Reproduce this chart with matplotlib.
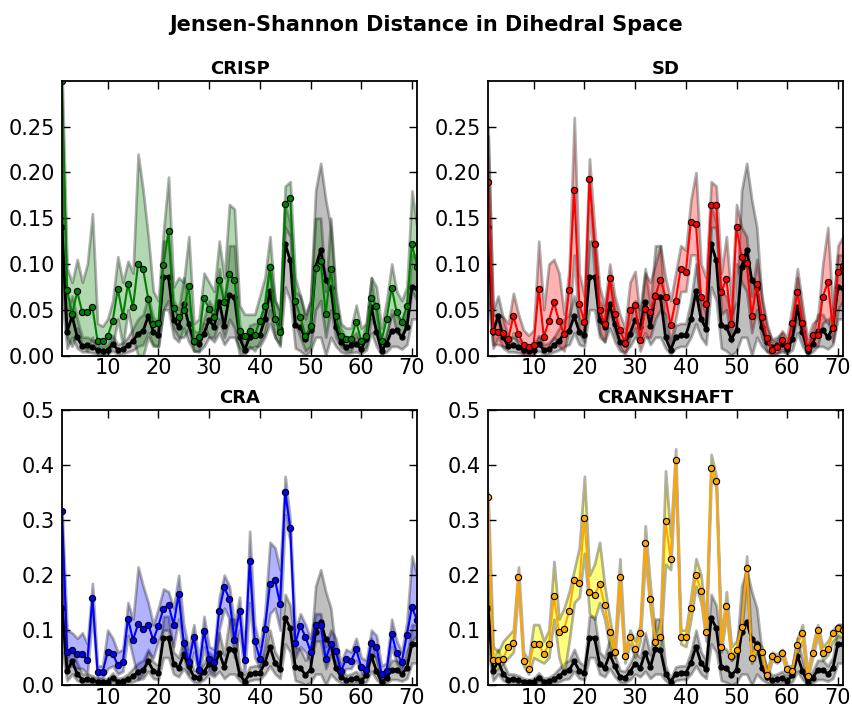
import matplotlib
matplotlib.use("Agg")
import matplotlib.pyplot as plt
from matplotlib.colors import to_rgba
from matplotlib.ticker import FormatStrFormatter

x = list(range(1, 72))

# reference (black line + grey band), same in every panel
ref_mean = [0.140, 0.026, 0.043, 0.020, 0.010, 0.011, 0.009, 0.006, 0.005, 0.006,
            0.013, 0.006, 0.007, 0.011, 0.016, 0.024, 0.027, 0.043, 0.026, 0.022,
            0.086, 0.086, 0.039, 0.031, 0.056, 0.034, 0.015, 0.013, 0.024, 0.039,
            0.031, 0.059, 0.032, 0.066, 0.064, 0.020, 0.006, 0.020, 0.022, 0.022,
            0.040, 0.070, 0.040, 0.029, 0.122, 0.104, 0.033, 0.031, 0.018, 0.028,
            0.097, 0.115, 0.083, 0.074, 0.031, 0.015, 0.009, 0.011, 0.013, 0.007,
            0.018, 0.053, 0.026, 0.005, 0.013, 0.027, 0.028, 0.020, 0.031, 0.075,
            0.074]
ref_lo = [0.060, 0.008, 0.020, 0.008, 0.004, 0.004, 0.003, 0.002, 0.001, 0.002,
          0.005, 0.001, 0.002, 0.004, 0.006, 0.010, 0.012, 0.025, 0.012, 0.010,
          0.050, 0.050, 0.020, 0.015, 0.030, 0.015, 0.005, 0.004, 0.010, 0.020,
          0.015, 0.025, 0.012, 0.020, 0.020, 0.008, 0.001, 0.008, 0.010, 0.010,
          0.020, 0.035, 0.020, 0.012, 0.075, 0.060, 0.008, 0.005, 0.000, 0.005,
          0.020, 0.020, 0.000, 0.020, 0.010, 0.004, 0.002, 0.003, 0.004, 0.002,
          0.006, 0.025, 0.010, 0.001, 0.004, 0.010, 0.010, 0.007, 0.012, 0.040,
          0.040]
ref_hi = [0.240, 0.050, 0.065, 0.040, 0.020, 0.020, 0.017, 0.012, 0.010, 0.012,
          0.022, 0.012, 0.014, 0.020, 0.030, 0.040, 0.045, 0.065, 0.042, 0.035,
          0.125, 0.125, 0.060, 0.050, 0.085, 0.055, 0.027, 0.025, 0.040, 0.060,
          0.050, 0.095, 0.055, 0.120, 0.120, 0.035, 0.012, 0.033, 0.035, 0.035,
          0.060, 0.100, 0.060, 0.045, 0.165, 0.145, 0.070, 0.065, 0.045, 0.060,
          0.180, 0.210, 0.170, 0.140, 0.060, 0.030, 0.018, 0.020, 0.025, 0.014,
          0.035, 0.085, 0.045, 0.010, 0.025, 0.045, 0.045, 0.035, 0.050, 0.110,
          0.110]

crisp_mean = [0.300, 0.072, 0.045, 0.070, 0.047, 0.047, 0.053, 0.016, 0.016, 0.021,
              0.038, 0.073, 0.043, 0.078, 0.053, 0.100, 0.094, 0.062, 0.034, 0.036,
              0.099, 0.136, 0.052, 0.042, 0.050, 0.076, 0.016, 0.020, 0.063, 0.051,
              0.042, 0.083, 0.058, 0.089, 0.083, 0.027, 0.021, 0.027, 0.022, 0.038,
              0.054, 0.097, 0.040, 0.026, 0.166, 0.172, 0.060, 0.042, 0.021, 0.032,
              0.096, 0.103, 0.045, 0.095, 0.043, 0.021, 0.018, 0.018, 0.037, 0.016,
              0.021, 0.063, 0.054, 0.016, 0.040, 0.074, 0.047, 0.037, 0.054, 0.122,
              0.097]
crisp_lo = [0.100, 0.020, 0.010, 0.030, 0.010, 0.005, 0.020, 0.000, 0.000, 0.005,
            0.010, 0.040, 0.010, 0.050, 0.020, 0.000, 0.000, 0.020, 0.010, 0.010,
            0.050, 0.060, 0.030, 0.020, 0.020, 0.030, 0.005, 0.005, 0.035, 0.020,
            0.020, 0.040, 0.020, 0.040, 0.030, 0.000, 0.005, 0.010, 0.005, 0.015,
            0.025, 0.050, 0.020, 0.010, 0.140, 0.130, 0.035, 0.020, 0.005, 0.010,
            0.050, 0.060, 0.020, 0.050, 0.020, 0.010, 0.005, 0.005, 0.020, 0.005,
            0.010, 0.040, 0.030, 0.005, 0.020, 0.050, 0.025, 0.020, 0.035, 0.070,
            0.060]
crisp_hi = [0.310, 0.095, 0.080, 0.105, 0.080, 0.100, 0.155, 0.035, 0.032, 0.040,
            0.060, 0.108, 0.080, 0.103, 0.090, 0.220, 0.180, 0.130, 0.070, 0.060,
            0.135, 0.195, 0.075, 0.085, 0.080, 0.130, 0.035, 0.040, 0.090, 0.080,
            0.070, 0.125, 0.085, 0.165, 0.160, 0.055, 0.045, 0.045, 0.045, 0.065,
            0.085, 0.130, 0.060, 0.050, 0.185, 0.190, 0.085, 0.065, 0.040, 0.060,
            0.150, 0.150, 0.070, 0.150, 0.070, 0.035, 0.030, 0.030, 0.055, 0.030,
            0.035, 0.085, 0.075, 0.030, 0.060, 0.100, 0.070, 0.060, 0.075, 0.180,
            0.140]

sd_mean = [0.190, 0.027, 0.026, 0.025, 0.018, 0.043, 0.023, 0.012, 0.009, 0.012,
           0.073, 0.020, 0.038, 0.058, 0.038, 0.023, 0.072, 0.181, 0.056, 0.037,
           0.193, 0.122, 0.050, 0.034, 0.085, 0.045, 0.028, 0.014, 0.050, 0.055,
           0.017, 0.051, 0.047, 0.065, 0.083, 0.064, 0.033, 0.060, 0.095, 0.091,
           0.146, 0.144, 0.064, 0.056, 0.164, 0.164, 0.069, 0.084, 0.034, 0.140,
           0.108, 0.101, 0.043, 0.078, 0.042, 0.019, 0.006, 0.009, 0.017, 0.010,
           0.036, 0.069, 0.036, 0.008, 0.022, 0.022, 0.064, 0.080, 0.030, 0.091,
           0.098]
sd_lo = [0.080, 0.012, 0.012, 0.010, 0.008, 0.025, 0.010, 0.000, 0.000, 0.000,
         0.020, 0.005, 0.010, 0.020, 0.010, 0.005, 0.030, 0.110, 0.025, 0.015,
         0.160, 0.090, 0.025, 0.015, 0.050, 0.025, 0.010, 0.000, 0.020, 0.030,
         0.005, 0.020, 0.020, 0.040, 0.050, 0.045, 0.015, 0.040, 0.070, 0.070,
         0.110, 0.110, 0.040, 0.035, 0.140, 0.140, 0.045, 0.050, 0.015, 0.100,
         0.080, 0.070, 0.025, 0.050, 0.020, 0.005, 0.000, 0.002, 0.007, 0.002,
         0.020, 0.040, 0.020, 0.000, 0.010, 0.010, 0.035, 0.040, 0.015, 0.050,
         0.060]
sd_hi = [0.250, 0.045, 0.045, 0.042, 0.035, 0.068, 0.045, 0.028, 0.022, 0.028,
         0.125, 0.050, 0.100, 0.105, 0.090, 0.045, 0.095, 0.260, 0.090, 0.065,
         0.215, 0.140, 0.075, 0.055, 0.100, 0.065, 0.045, 0.030, 0.080, 0.092,
         0.040, 0.090, 0.080, 0.100, 0.120, 0.085, 0.060, 0.090, 0.120, 0.115,
         0.170, 0.200, 0.100, 0.085, 0.190, 0.185, 0.090, 0.130, 0.060, 0.165,
         0.140, 0.130, 0.065, 0.105, 0.065, 0.035, 0.015, 0.017, 0.027, 0.020,
         0.055, 0.095, 0.055, 0.018, 0.035, 0.040, 0.100, 0.140, 0.050, 0.120,
         0.130]

cra_mean = [0.317, 0.061, 0.063, 0.057, 0.057, 0.045, 0.159, 0.024, 0.023, 0.060,
            0.057, 0.036, 0.042, 0.121, 0.082, 0.111, 0.102, 0.110, 0.082, 0.108,
            0.139, 0.146, 0.110, 0.165, 0.077, 0.041, 0.087, 0.027, 0.098, 0.048,
            0.042, 0.135, 0.178, 0.157, 0.082, 0.135, 0.045, 0.225, 0.081, 0.048,
            0.102, 0.184, 0.191, 0.148, 0.352, 0.285, 0.076, 0.108, 0.088, 0.061,
            0.109, 0.109, 0.047, 0.075, 0.062, 0.025, 0.047, 0.044, 0.065, 0.033,
            0.028, 0.077, 0.070, 0.020, 0.026, 0.093, 0.058, 0.042, 0.091, 0.142,
            0.118]
cra_lo = [0.140, 0.030, 0.035, 0.030, 0.030, 0.020, 0.130, 0.012, 0.012, 0.030,
          0.035, 0.020, 0.025, 0.090, 0.050, 0.010, 0.020, 0.060, 0.050, 0.080,
          0.100, 0.100, 0.070, 0.120, 0.050, 0.020, 0.060, 0.010, 0.070, 0.025,
          0.020, 0.100, 0.140, 0.120, 0.050, 0.100, 0.020, 0.150, 0.050, 0.030,
          0.070, 0.130, 0.140, 0.100, 0.310, 0.260, 0.050, 0.070, 0.060, 0.040,
          0.080, 0.080, 0.030, 0.055, 0.040, 0.015, 0.030, 0.030, 0.045, 0.020,
          0.015, 0.055, 0.050, 0.010, 0.015, 0.070, 0.040, 0.025, 0.060, 0.080,
          0.090]
cra_hi = [0.320, 0.100, 0.095, 0.085, 0.095, 0.075, 0.185, 0.035, 0.035, 0.100,
          0.085, 0.060, 0.065, 0.150, 0.120, 0.215, 0.180, 0.150, 0.110, 0.140,
          0.175, 0.170, 0.140, 0.200, 0.110, 0.065, 0.110, 0.045, 0.125, 0.070,
          0.065, 0.160, 0.200, 0.180, 0.110, 0.160, 0.060, 0.280, 0.110, 0.070,
          0.130, 0.260, 0.250, 0.210, 0.380, 0.300, 0.100, 0.130, 0.110, 0.085,
          0.130, 0.130, 0.070, 0.100, 0.085, 0.040, 0.065, 0.060, 0.085, 0.050,
          0.045, 0.100, 0.090, 0.035, 0.040, 0.120, 0.080, 0.060, 0.115, 0.235,
          0.200]

crank_mean = [0.342, 0.045, 0.045, 0.048, 0.070, 0.076, 0.196, 0.043, 0.029, 0.074,
              0.074, 0.056, 0.074, 0.162, 0.096, 0.102, 0.135, 0.192, 0.185, 0.305,
              0.170, 0.163, 0.184, 0.145, 0.096, 0.060, 0.197, 0.053, 0.087, 0.065,
              0.094, 0.258, 0.156, 0.079, 0.088, 0.299, 0.229, 0.410, 0.088, 0.087,
              0.141, 0.200, 0.172, 0.096, 0.396, 0.372, 0.070, 0.144, 0.053, 0.064,
              0.106, 0.213, 0.050, 0.070, 0.060, 0.018, 0.052, 0.048, 0.058, 0.030,
              0.025, 0.073, 0.095, 0.016, 0.059, 0.100, 0.059, 0.065, 0.094, 0.103,
              0.100]
crank_lo = [0.140, 0.025, 0.030, 0.040, 0.050, 0.060, 0.180, 0.035, 0.020, 0.050,
            0.045, 0.040, 0.050, 0.120, 0.050, 0.020, 0.080, 0.150, 0.160, 0.240,
            0.130, 0.120, 0.150, 0.120, 0.070, 0.050, 0.170, 0.040, 0.075, 0.050,
            0.080, 0.230, 0.140, 0.065, 0.070, 0.220, 0.210, 0.390, 0.075, 0.070,
            0.120, 0.180, 0.150, 0.080, 0.380, 0.360, 0.060, 0.130, 0.045, 0.055,
            0.095, 0.200, 0.040, 0.060, 0.050, 0.010, 0.045, 0.040, 0.050, 0.020,
            0.020, 0.060, 0.080, 0.010, 0.050, 0.090, 0.045, 0.055, 0.080, 0.090,
            0.085]
crank_hi = [0.350, 0.070, 0.060, 0.080, 0.090, 0.100, 0.215, 0.060, 0.045, 0.110,
            0.110, 0.080, 0.100, 0.225, 0.120, 0.140, 0.170, 0.210, 0.250, 0.380,
            0.200, 0.220, 0.260, 0.180, 0.120, 0.070, 0.230, 0.060, 0.100, 0.080,
            0.110, 0.290, 0.180, 0.090, 0.120, 0.390, 0.270, 0.430, 0.100, 0.100,
            0.160, 0.230, 0.200, 0.110, 0.420, 0.380, 0.080, 0.170, 0.070, 0.080,
            0.120, 0.235, 0.060, 0.080, 0.070, 0.025, 0.060, 0.055, 0.065, 0.035,
            0.035, 0.085, 0.110, 0.025, 0.070, 0.110, 0.070, 0.080, 0.100, 0.110,
            0.110]

titles = ['CRISP', 'SD', 'CRA', 'CRANKSHAFT']
line_colors = ['green', 'red', 'blue', 'orange']
band_colors = [to_rgba('green', 0.3), to_rgba('red', 0.3),
               to_rgba('blue', 0.3), to_rgba('yellow', 0.5)]
means = [crisp_mean, sd_mean, cra_mean, crank_mean]
lows = [crisp_lo, sd_lo, cra_lo, crank_lo]
highs = [crisp_hi, sd_hi, cra_hi, crank_hi]

fig, axes = plt.subplots(2, 2, figsize=(8.53, 7.10), dpi=100)
fig.subplots_adjust(left=0.0727, right=0.9883, top=0.886, bottom=0.0352,
                    wspace=0.2, hspace=0.2)
fig.suptitle('Jensen-Shannon Distance in Dihedral Space', fontsize=15,
             fontweight='bold', y=0.965, va='center')

for k, ax in enumerate(axes.flat):
    ax.fill_between(x, ref_lo, ref_hi, facecolor=to_rgba('black', 0.25),
                    edgecolor=to_rgba('black', 0.3), linewidth=2)
    ax.fill_between(x, lows[k], highs[k], facecolor=band_colors[k],
                    edgecolor=to_rgba('black', 0.3), linewidth=2)
    ax.plot(x, ref_mean, color='black', linewidth=2, marker='o', markersize=3.5,
            markerfacecolor='black', markeredgecolor='black')
    ax.plot(x, means[k], color=line_colors[k], linewidth=1.5, marker='o',
            markersize=4.5, markerfacecolor=line_colors[k],
            markeredgecolor='black', markeredgewidth=0.8)
    ax.set_title(titles[k], fontsize=13, fontweight='bold', pad=5)
    ax.set_xlim(1, 71)
    ax.set_xticks([10, 20, 30, 40, 50, 60, 70])
    if k < 2:
        ax.set_ylim(0, 0.3)
        ax.set_yticks([0, 0.05, 0.10, 0.15, 0.20, 0.25])
        ax.yaxis.set_major_formatter(FormatStrFormatter('%.2f'))
    else:
        ax.set_ylim(0, 0.5)
        ax.set_yticks([0, 0.1, 0.2, 0.3, 0.4, 0.5])
        ax.yaxis.set_major_formatter(FormatStrFormatter('%.1f'))
    ax.tick_params(direction='in', top=True, right=True, length=6, width=1,
                   labelsize=15)
    ax.tick_params(axis='y', pad=5)
    ax.tick_params(axis='x', pad=2)
    for s in ax.spines.values():
        s.set_linewidth(1.3)

plt.savefig('out.png', dpi=100)
